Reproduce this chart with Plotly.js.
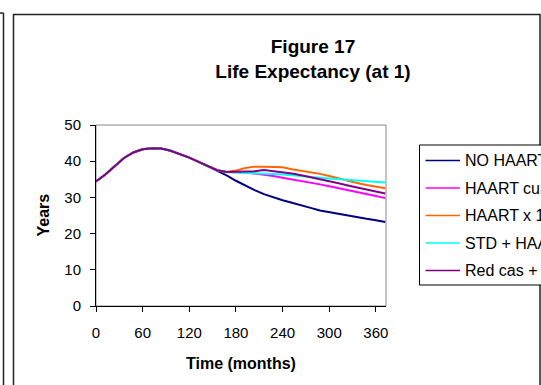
<!DOCTYPE html>
<html>
<head>
<meta charset="utf-8">
<script src="https://cdn.plot.ly/plotly-3.0.1.min.js"></script>
<style>html,body{margin:0;padding:0;background:#fff;overflow:hidden}#chart{width:541px;height:385px}</style>
</head>
<body>
<div id="chart"></div>
<script>
// ---- data ----
const months = [0,12,24,36,48,60,72,84,96,108,120,132,144,156,168,180,192,204,216,228,240,252,264,276,288,300,312,324,336,348,360,372];
const common = [34.4,36.3,38.6,40.9,42.4,43.3,43.6,43.5,42.9,42.0,41.0,39.8,38.6,37.5];
const noHaartTail   = [36.1,34.6,33.2,32.0,30.9,30.0,29.2,28.5,27.7,27.1,26.4,25.9,25.4,25.0,24.5,24.1,23.7,23.2];
const haartCurTail  = [37.0,37.0,36.9,36.6,36.3,35.9,35.4,35.0,34.6,34.1,33.6,33.1,32.6,32.1,31.6,31.0,30.4,29.8];
const haartX1Tail   = [37.0,37.4,38.1,38.5,38.5,38.5,38.3,37.8,37.4,37.0,36.5,35.9,35.2,34.6,34.0,33.4,32.9,32.5];
const stdHaartTail  = [37.0,36.9,36.9,36.8,36.7,36.5,36.3,36.1,35.8,35.6,35.4,35.2,35.0,34.8,34.6,34.4,34.2,34.1];
const redCasTail    = [37.0,37.0,37.1,37.2,37.6,37.3,37.0,36.6,36.1,35.6,35.0,34.4,33.9,33.3,32.7,32.2,31.6,31.1];
const seriesNames = ['NO HAART','HAART current','HAART x 1.5','STD + HAART','Red cas + HAART'];
const seriesColors = ['#000080','#FF00FF','#FF6600','#00FFFF','#800080'];
const seriesTails = [noHaartTail, haartCurTail, haartX1Tail, stdHaartTail, redCasTail];
const xTicks = [0,60,120,180,240,300,360];
const yTicks = [0,10,20,30,40,50];

// ---- layout geometry (pixels) ----
const W = 541, H = 385;
const L = 96, R = 386, T = 125, B = 306;
const fx = px => (px - L) / (R - L);
const fy = py => (B - py) / (B - T);
const FONT = 'Liberation Sans, Arial, sans-serif';

const traces = seriesTails.map((tail, i) => ({
  x: months,
  y: common.concat(tail),
  type: 'scatter',
  mode: 'lines',
  name: seriesNames[i],
  line: {color: seriesColors[i], width: 2},
  hoverinfo: 'skip',
  showlegend: false
}));

const shapes = [];
const annotations = [];
// outer frames
shapes.push({type:'rect', xref:'paper', yref:'paper', x0:fx(13.5), x1:fx(540), y0:fy(14.5), y1:fy(400), line:{color:'#222', width:1.5}, fillcolor:'rgba(0,0,0,0)'});
shapes.push({type:'line', xref:'paper', yref:'paper', x0:fx(3.5), x1:fx(3.5), y0:fy(13), y1:fy(400), line:{color:'#222', width:1.5}});
shapes.push({type:'line', xref:'paper', yref:'paper', x0:fx(-2), x1:fx(3.5), y0:fy(13), y1:fy(13), line:{color:'#222', width:1.5}});
// plot-area border (gray)
shapes.push({type:'rect', xref:'paper', yref:'paper', x0:0, x1:1, y0:0, y1:1, line:{color:'#888', width:1}, layer:'below'});
// legend box
const legTop = 145, legBot = 285, legLeft = 419.5;
shapes.push({type:'rect', xref:'paper', yref:'paper', x0:fx(legLeft), x1:fx(600), y0:fy(legTop), y1:fy(legBot), line:{color:'#000', width:1}, fillcolor:'#fff'});
const entryY = [160.5, 188, 215.5, 243, 270.5];
seriesNames.forEach((n, i) => {
  shapes.push({type:'line', xref:'paper', yref:'paper', x0:fx(425.5), x1:fx(460), y0:fy(entryY[i]), y1:fy(entryY[i]), line:{color:seriesColors[i], width:1.5}});
  annotations.push({xref:'paper', yref:'paper', x:fx(463), y:fy(entryY[i]), xanchor:'left', yanchor:'middle', text:n, showarrow:false, font:{family:FONT, size:16, color:'#000'}});
});
// axis titles
annotations.push({xref:'paper', yref:'paper', x:0.5, y:fy(363), xanchor:'center', yanchor:'middle', text:'<b>Time (months)</b>', showarrow:false, font:{family:FONT, size:16, color:'#000'}});
annotations.push({xref:'paper', yref:'paper', x:fx(43), y:0.5, xanchor:'center', yanchor:'middle', text:'<b>Years</b>', textangle:-90, showarrow:false, font:{family:FONT, size:16, color:'#000'}});

const layout = {
  width: W, height: H,
  margin: {l: L, r: W - R, t: T, b: H - B, pad: 0},
  paper_bgcolor: '#fff', plot_bgcolor: '#fff',
  showlegend: false,
  title: {text: '<b>Figure 17<br>Life Expectancy (at 1)</b>', font: {family: FONT, size: 19, color: '#000'},
          x: 313 / W, xref: 'container', xanchor: 'center', y: 1 - 53 / H, yref: 'container', yanchor: 'top'},
  xaxis: {range: [0, 373], tickvals: xTicks, ticktext: xTicks.map(String), showgrid: false, zeroline: false,
          showline: true, linecolor: '#000', linewidth: 1, ticks: 'outside', ticklen: 5, tickcolor: '#000',
          tickfont: {family: FONT, size: 15, color: '#000'}, ticklabelstandoff: 8, fixedrange: true},
  yaxis: {range: [0, 50], tickvals: yTicks, ticktext: yTicks.map(String), showgrid: false, zeroline: false,
          showline: true, linecolor: '#000', linewidth: 1, ticks: 'outside', ticklen: 5, tickcolor: '#000',
          tickfont: {family: FONT, size: 15, color: '#000'}, ticklabelstandoff: 6, fixedrange: true},
  shapes: shapes,
  annotations: annotations
};

Plotly.newPlot('chart', traces, layout, {staticPlot: true, displayModeBar: false});
</script>
</body>
</html>
